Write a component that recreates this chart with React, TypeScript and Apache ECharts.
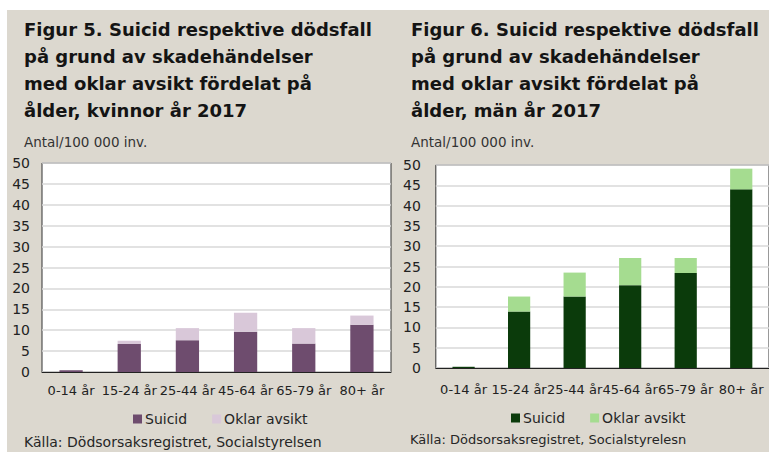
import React, { useEffect, useRef } from "react";
import * as echarts from "echarts";

const categories = ["0-14 år", "15-24 år", "25-44 år", "45-64 år", "65-79 år", "80+ år"];
const kvinnorSuicid = [0.4, 6.7, 7.6, 9.6, 6.8, 11.3];
const kvinnorOklar = [0, 0.8, 2.9, 4.6, 3.7, 2.2];
const manSuicid = [0.3, 13.9, 17.6, 20.4, 23.4, 44.0];
const manOklar = [0, 3.7, 5.9, 6.7, 3.7, 5.1];
const yMin = 0;
const yMax = 50;
const yInterval = 5;

const titleKvinnor = "Figur 5. Suicid respektive dödsfall\npå grund av skadehändelser\nmed oklar avsikt fördelat på\nålder, kvinnor år 2017";
const titleMan = "Figur 6. Suicid respektive dödsfall\npå grund av skadehändelser\nmed oklar avsikt fördelat på\nålder, män år 2017";
const unitLabel = "Antal/100 000 inv.";
const sourceKvinnor = "Källa: Dödsorsaksregistret, Socialstyrelsen";
const sourceMan = "Källa: Dödsorsaksregistret, Socialstyrelesn";

const BG = "#dcd8cf";
const FONT = "DejaVu Sans";

type PanelCfg = {
  title: string;
  source: string;
  suicid: number[];
  oklar: number[];
  dark: string;
  light: string;
  textX: number;
  sourceX: number;
  sourceY: number;
  sourceSize: number;
  grid: { left: number; top: number; width: number; height: number };
  labelMarginY: number;
  labelMarginX: number;
  legendLeft: number;
  legendTop: number;
};

function makeOption(c: PanelCfg): any {
  return {
    animation: false,
    backgroundColor: BG,
    title: {
      text: c.title,
      left: c.textX,
      top: 6,
      padding: 0,
      textStyle: {
        fontFamily: FONT,
        fontSize: 18,
        fontWeight: "bold",
        color: "#141414",
        lineHeight: 27,
      },
    },
    graphic: [
      {
        type: "text",
        left: c.textX,
        top: 125,
        style: { text: unitLabel, fontFamily: FONT, fontSize: 13.5, fill: "#333" },
      },
      {
        type: "text",
        left: c.sourceX,
        top: c.sourceY,
        style: { text: c.source, fontFamily: FONT, fontSize: c.sourceSize, fill: "#262626" },
      },
    ],
    legend: {
      left: c.legendLeft,
      top: c.legendTop,
      padding: 0,
      icon: "rect",
      itemWidth: 9,
      itemHeight: 9,
      itemGap: 25,
      textStyle: { fontFamily: FONT, fontSize: 14, color: "#262626", padding: [0, 0, 0, -2] },
      data: ["Suicid", "Oklar avsikt"],
    },
    grid: {
      ...c.grid,
      containLabel: false,
      show: true,
      backgroundColor: "#ffffff",
      borderColor: "#333",
      borderWidth: 1,
    },
    xAxis: {
      type: "category",
      data: categories,
      axisLine: { lineStyle: { color: "#222", width: 1 } },
      axisTick: { inside: true, length: 4, lineStyle: { color: "#222" } },
      axisLabel: { interval: 0, fontFamily: FONT, fontSize: 13, color: "#222", margin: c.labelMarginX },
      splitLine: { show: false },
    },
    yAxis: {
      type: "value",
      min: yMin,
      max: yMax,
      interval: yInterval,
      axisLine: { show: false },
      axisTick: { show: false },
      axisLabel: { fontFamily: FONT, fontSize: 14, color: "#222", margin: c.labelMarginY },
      splitLine: { lineStyle: { color: "#d9d9d9", width: 1.5 } },
    },
    series: [
      {
        name: "Suicid",
        type: "bar",
        stack: "a",
        barWidth: "40%",
        data: c.suicid,
        itemStyle: { color: c.dark },
      },
      {
        name: "Oklar avsikt",
        type: "bar",
        stack: "a",
        barWidth: "40%",
        data: c.oklar,
        itemStyle: { color: c.light },
      },
    ],
  };
}

function Panel({ left, width, cfg }: { left: number; width: number; cfg: PanelCfg }) {
  const ref = useRef<HTMLDivElement>(null);
  useEffect(() => {
    if (!ref.current) return;
    const chart = echarts.init(ref.current, undefined, { renderer: "svg" });
    chart.setOption(makeOption(cfg));
    return () => chart.dispose();
  }, []);
  return (
    <div
      ref={ref}
      style={{ position: "absolute", left, top: 10, width, height: 442 }}
    />
  );
}

export default function App() {
  const left: PanelCfg = {
    title: titleKvinnor,
    source: sourceKvinnor,
    suicid: kvinnorSuicid,
    oklar: kvinnorOklar,
    dark: "#6e4c6e",
    light: "#d9c8d9",
    textX: 17,
    sourceX: 17,
    sourceY: 425,
    sourceSize: 14,
    grid: { left: 35, top: 153, width: 349, height: 209 },
    labelMarginY: 12,
    labelMarginX: 12,
    legendLeft: 126,
    legendTop: 402,
  };
  const right: PanelCfg = {
    title: titleMan,
    source: sourceMan,
    suicid: manSuicid,
    oklar: manOklar,
    dark: "#0b3b0b",
    light: "#a5dc90",
    textX: 11,
    sourceX: 10,
    sourceY: 423,
    sourceSize: 13,
    grid: { left: 28, top: 155, width: 348, height: 203 },
    labelMarginY: 15,
    labelMarginX: 15,
    legendLeft: 111,
    legendTop: 401,
  };
  return (
    <div style={{ position: "fixed", left: 0, top: 0, width: 769, height: 452, background: "#fff", overflow: "hidden" }}>
      <Panel left={7} width={393} cfg={left} />
      <Panel left={400} width={369} cfg={right} />
    </div>
  );
}
